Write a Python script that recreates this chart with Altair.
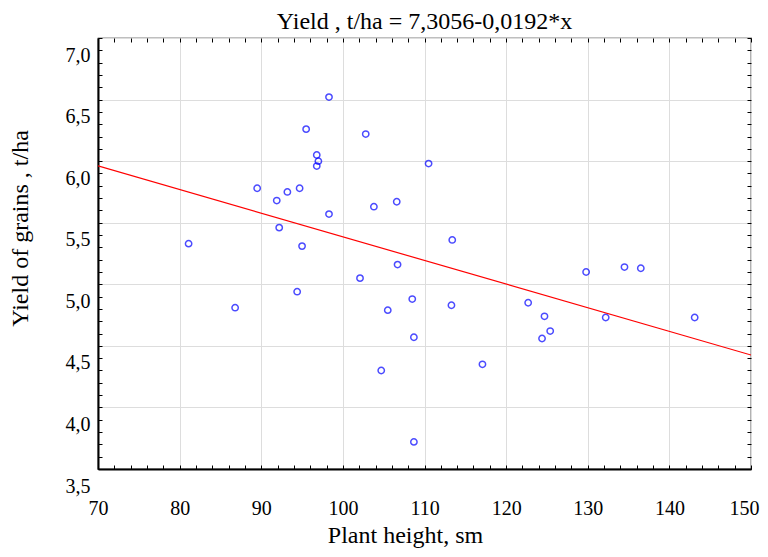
import altair as alt
import pandas as pd

# Data
plant_height = [98.3, 95.5, 102.8, 96.8, 97.0, 96.8, 110.5, 89.5, 93.2, 94.7,
                91.9, 106.6, 103.8, 98.3, 92.2, 81.1, 95.0, 106.7, 102.1, 94.4,
                113.4, 129.8, 134.5, 136.5, 86.8, 108.5, 105.5, 108.7, 104.7, 108.7,
                113.3, 117.1, 122.7, 124.7, 125.4, 124.4, 132.2, 143.1]
yield_grain = [6.52, 6.26, 6.22, 6.05, 6.00, 5.96, 5.98, 5.78, 5.75, 5.78,
               5.68, 5.67, 5.63, 5.57, 5.46, 5.33, 5.31, 5.16, 5.05, 4.94,
               5.36, 5.10, 5.14, 5.13, 4.81, 4.88, 4.79, 4.57, 4.30, 3.72,
               4.83, 4.35, 4.85, 4.74, 4.62, 4.56, 4.73, 4.73]

intercept = 7.3056
slope = -0.0192
line_x = [70, 150]

x_major = [70, 80, 90, 100, 110, 120, 130, 140, 150]
x_minor = list(range(70, 151, 2))
y_major = [3.5, 4.0, 4.5, 5.0, 5.5, 6.0, 6.5, 7.0]
y_minor = [round(3.5 + 0.1 * i, 1) for i in range(36)]

pts = pd.DataFrame({"x": plant_height, "y": yield_grain})
ln = pd.DataFrame({"x": line_x, "y": [intercept + slope * v for v in line_x]})

W, H = 653, 431
FONT = "Liberation Serif"
xs = alt.Scale(domain=[70, 150], nice=False, zero=False)
ys = alt.Scale(domain=[3.5, 7.0], nice=False, zero=False)

lbl_expr = "replace(format(datum.value, '.1f'), '.', ',')"

points = alt.Chart(pts).mark_point(
    shape="circle", filled=False, color="#0000ff", size=40, strokeWidth=1.5
).encode(
    x=alt.X("x:Q", scale=xs, axis=alt.Axis(
        orient="bottom", values=x_major, grid=True, ticks=False, domain=True,
        domainColor="black", domainWidth=2,
        labelFlush=False, labelOverlap=False, labelPadding=29,
        labelOffset={"condition": {"test": "datum.value >= 150", "value": -7}, "value": 0},
        title="Plant height, sm", titleX=307, titleY=73,
        titleAlign="center", titleBaseline="alphabetic")),
    y=alt.Y("y:Q", scale=ys, axis=alt.Axis(
        orient="left", values=y_major, grid=True, ticks=False, domain=True,
        domainColor="black", domainWidth=2,
        labelExpr=lbl_expr, labelOffset=17, labelPadding=8,
        labelFlush=False, labelOverlap=False,
        title="Yield of grains , t/ha", titleX=-71, titleY=190,
        titleAngle=270, titleAlign="center", titleBaseline="alphabetic")),
)

line = alt.Chart(ln).mark_line(color="#ff0000", strokeWidth=1.2, clip=True).encode(
    x=alt.X("x:Q", scale=xs, axis=alt.Axis(
        orient="bottom", offset=-H, values=x_minor, grid=False, labels=False,
        domain=False, ticks=True, tickSize=4, tickColor="black", title=None)),
    y=alt.Y("y:Q", scale=ys, axis=alt.Axis(
        orient="left", offset=-W, values=y_minor, grid=False, labels=False,
        domain=False, ticks=True, tickSize=4, tickColor="black", title=None)),
)

ghost = alt.Chart(ln).mark_line(opacity=0).encode(
    x=alt.X("x:Q", scale=xs, axis=alt.Axis(
        orient="top", offset=-H, values=x_minor, grid=False, labels=False,
        domain=False, ticks=True, tickSize=4, tickColor="black", title=None)),
    y=alt.Y("y:Q", scale=ys, axis=alt.Axis(
        orient="right", offset=-W, values=y_minor, grid=False, labels=False,
        domain=False, ticks=True, tickSize=4, tickColor="black", title=None)),
)

chart = alt.layer(points, line, ghost).resolve_axis(
    x="independent", y="independent"
).properties(
    width=W, height=H,
    autosize=alt.AutoSizeParams(type="none"),
    padding={"left": 90, "top": 30, "right": 9, "bottom": 80},
    title=alt.TitleParams(
        "Yield , t/ha = 7,3056-0,0192*x", font=FONT, fontSize=24,
        fontWeight="normal", color="black", anchor="middle", offset=4),
).configure_view(
    stroke="black", strokeWidth=1.2
).configure_axis(
    labelFont=FONT, labelFontSize=20, labelColor="black",
    titleFont=FONT, titleFontSize=24, titleFontWeight="normal", titleColor="black",
    gridColor="#dddddd", gridWidth=1,
)

chart.save("out.html", embed_options={"renderer": "svg", "actions": False})
